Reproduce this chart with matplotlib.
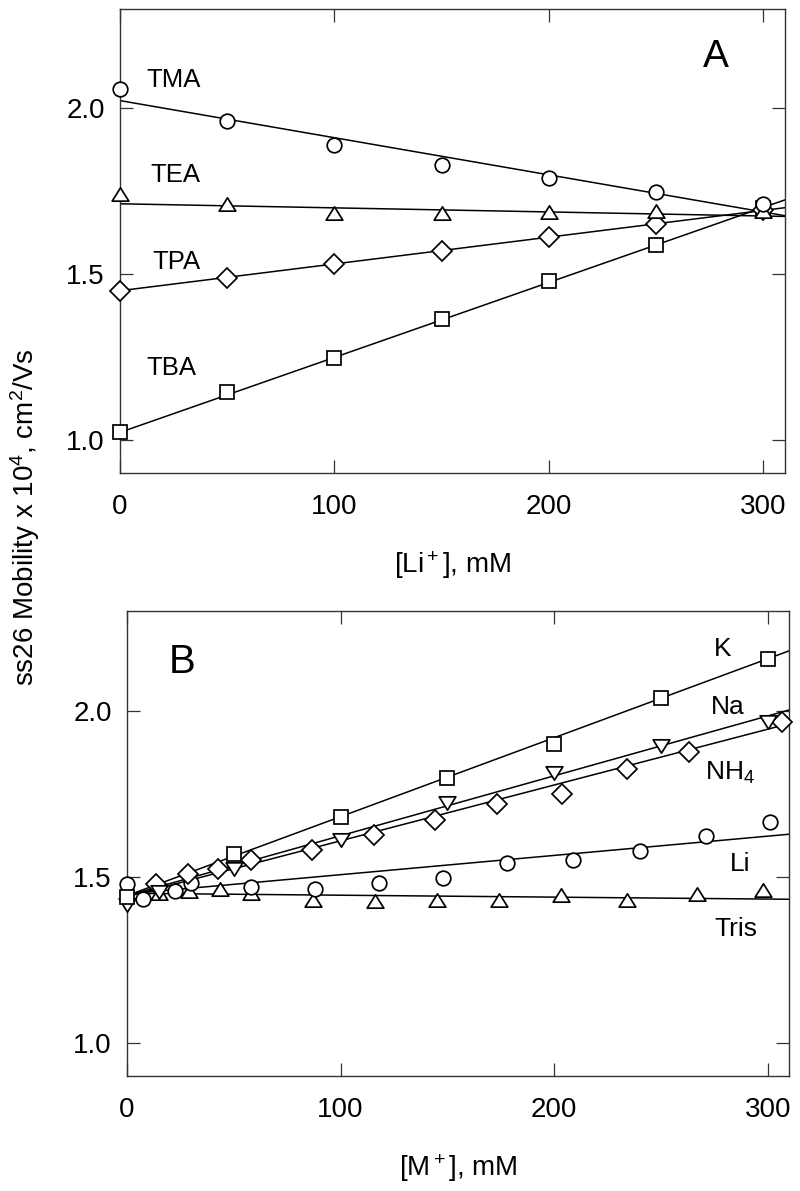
import matplotlib
matplotlib.use('Agg')
import matplotlib.pyplot as plt
import numpy as np
from matplotlib.path import Path

plt.rcParams['font.family'] = ['Liberation Sans', 'DejaVu Sans']
plt.rcParams['mathtext.fontset'] = 'custom'
plt.rcParams['mathtext.rm'] = 'Liberation Sans'
plt.rcParams['mathtext.it'] = 'Liberation Sans'
plt.rcParams['mathtext.default'] = 'regular'

# ---------------- Panel A data ----------------
li_conc = [0, 50, 100, 150, 200, 250, 300]
tma = [2.058, 1.960, 1.888, 1.830, 1.789, 1.749, 1.712]
tea = [1.740, 1.712, 1.684, 1.683, 1.686, 1.689, 1.690]
tpa = [1.450, 1.488, 1.530, 1.571, 1.611, 1.652, 1.692]
tba = [1.023, 1.145, 1.246, 1.365, 1.478, 1.588, 1.699]
a_names = ['TMA', 'TEA', 'TPA', 'TBA']
# straight lines (value at 0, slope per mM)
a_line_intercept = [2.023, 1.712, 1.450, 1.023]
a_line_slope = [-0.001119, -0.000123, 0.000807, 0.00226]
a_label_x = [25, 25.6, 26.5, 24]
a_label_y = [2.084, 1.798, 1.537, 1.218]

# ---------------- Panel B data ----------------
k_x = [0, 50, 100, 150, 200, 250, 300]
k_y = [1.439, 1.567, 1.680, 1.797, 1.900, 2.039, 2.156]
na_x = [0, 15, 50, 100, 150, 200, 250, 300]
na_y = [1.415, 1.455, 1.522, 1.609, 1.722, 1.812, 1.893, 1.965]
nh4_x = [13.6, 28.6, 42.8, 58, 86.7, 115.5, 144, 173.4, 203.7, 234, 263, 306.7]
nh4_y = [1.477, 1.509, 1.524, 1.549, 1.581, 1.624, 1.672, 1.720, 1.750, 1.825, 1.875, 1.967]
lim_x = [0, 7.5, 22.5, 30, 58, 88, 118, 148, 178, 209, 240, 271, 301]
lim_y = [1.479, 1.434, 1.457, 1.482, 1.469, 1.464, 1.480, 1.496, 1.540, 1.549, 1.578, 1.622, 1.666]
tris_x = [15, 29, 43.5, 58, 87, 116, 145, 174, 203, 234, 267, 298]
tris_y = [1.452, 1.458, 1.462, 1.450, 1.430, 1.427, 1.430, 1.430, 1.444, 1.431, 1.447, 1.459]
b_names = ['K', 'Na', 'NH$_4$', 'Li', 'Tris']
b_line_intercept = [1.443, 1.443, 1.440, 1.448, 1.450]
b_line_slope = [0.002377, 0.001803, 0.00168, 0.000580, -0.000058]
b_label_x = [279, 281.5, 282.5, 287, 285]
b_label_y = [2.187, 2.011, 1.812, 1.539, 1.343]

x_ticks = [0, 100, 200, 300]
y_ticks = [1.0, 1.5, 2.0]

# ---------------- markers ----------------
codes = [Path.MOVETO, Path.LINETO, Path.LINETO, Path.CLOSEPOLY]
tri_up = Path([(-1, -0.8), (1, -0.8), (0, 0.8), (-1, -0.8)], codes)
tri_down = Path([(-1, 0.8), (1, 0.8), (0, -0.8), (-1, 0.8)], codes)

mstyle = dict(linestyle='none', markerfacecolor='white', markeredgecolor='black',
              markeredgewidth=1.25, clip_on=False, zorder=4)

fig = plt.figure(figsize=(8, 11.91), dpi=100)
axA = fig.add_axes([0.15, 0.6027, 0.831, 0.390])
axB = fig.add_axes([0.1588, 0.0966, 0.8275, 0.3904])

XMAX = 310
xl = np.array([0, XMAX])


def style_axis(ax):
    ax.set_xlim(0, XMAX)
    ax.set_ylim(0.9, 2.3)
    ax.set_xticks(x_ticks)
    ax.set_yticks(y_ticks)
    ax.set_yticklabels(['%.1f' % v for v in y_ticks])
    ax.tick_params(axis='both', direction='in', length=9.5, width=0.9, color='#333333',
                   top=True, right=True, labelsize=20)
    ax.tick_params(axis='x', pad=15)
    ax.tick_params(axis='y', pad=11)
    for s in ax.spines.values():
        s.set_linewidth(1.0)
        s.set_color('#333333')


# ---------------- Panel A ----------------
a_series = [tma, tea, tpa, tba]
a_markers = ['o', tri_up, 'D', 's']
a_ms = [10.5, 12, 10, 10]
for i in range(4):
    axA.plot(xl, a_line_intercept[i] + a_line_slope[i] * xl, color='black', lw=1.1, zorder=2)
for i in [3, 2, 1, 0]:
    axA.plot(li_conc, a_series[i], marker=a_markers[i], markersize=a_ms[i], **mstyle)
for i in range(4):
    axA.text(a_label_x[i], a_label_y[i], a_names[i], fontsize=18.5, ha='center', va='center')
axA.text(278, 2.155, 'A', fontsize=28, ha='center', va='center')
style_axis(axA)
axA.set_xlabel('[Li$^+$], mM', fontsize=20, va='center')
axA.xaxis.set_label_coords(0.5, -0.198)

# ---------------- Panel B ----------------
bx = [k_x, na_x, nh4_x, lim_x, tris_x]
by = [k_y, na_y, nh4_y, lim_y, tris_y]
b_markers = ['s', tri_down, 'D', 'o', tri_up]
b_ms = [10, 12, 10, 10.5, 12]
for i in range(5):
    axB.plot(xl, b_line_intercept[i] + b_line_slope[i] * xl, color='black', lw=1.1, zorder=2)
for i in [4, 3, 2, 1, 0]:
    axB.plot(bx[i], by[i], marker=b_markers[i], markersize=b_ms[i], **mstyle)
for i in range(5):
    axB.text(b_label_x[i], b_label_y[i], b_names[i], fontsize=19, ha='center', va='center')
axB.text(25.8, 2.146, 'B', fontsize=29, ha='center', va='center')
style_axis(axB)
axB.set_xlabel('[M$^+$], mM', fontsize=20, va='center')
axB.xaxis.set_label_coords(0.5, -0.198)

fig.text(0.031, 0.566, 'ss26 Mobility x 10$^4$, cm$^2$/Vs', fontsize=20,
         rotation=90, ha='center', va='center')

fig.savefig('out.png', dpi=100)
